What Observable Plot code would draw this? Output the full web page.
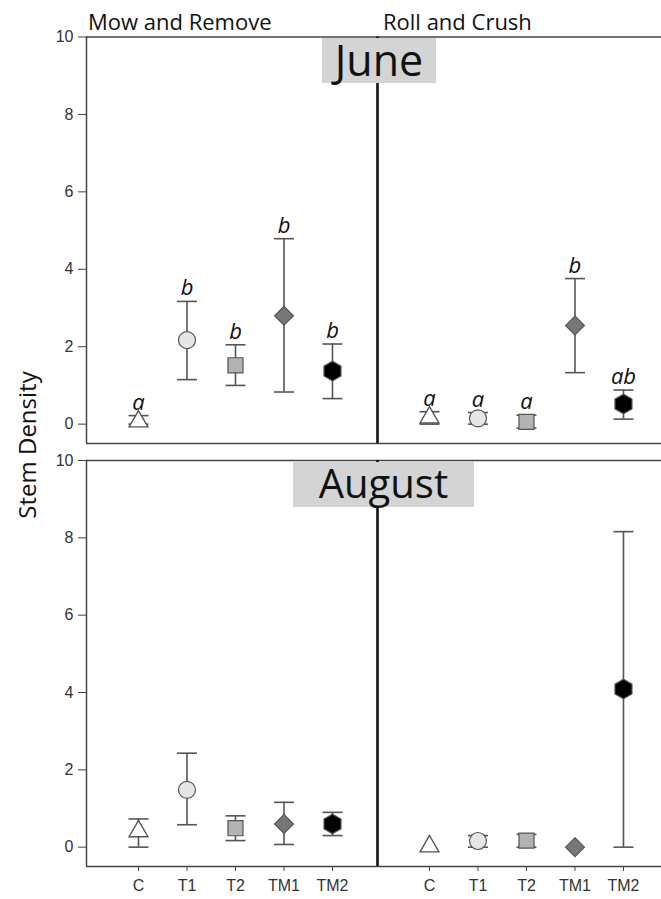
<!DOCTYPE html>
<html><head><meta charset="utf-8">
<script src="https://cdn.jsdelivr.net/npm/d3@7"></script>
<script src="https://cdn.jsdelivr.net/npm/@observablehq/plot@0.6"></script>
<style>
body{margin:0;background:#fff;}
#wrap{position:relative;width:661px;height:899px;overflow:hidden;background:#fff;}
.lbl{position:absolute;font-family:"Open Sans",sans-serif;color:#111;white-space:nowrap;line-height:1;}
.box{position:absolute;background:#d4d4d4;font-family:"Open Sans",sans-serif;color:#111;display:flex;align-items:center;justify-content:center;line-height:1;}
</style></head><body>
<div id="wrap">
  <div id="june" style="position:absolute;left:0;top:0"></div>
  <div id="aug" style="position:absolute;left:0;top:451px"></div>
  <div class="lbl" style="left:88px;top:10px;font-size:22px">Mow and Remove</div>
  <div class="lbl" style="left:383px;top:10px;font-size:22px">Roll and Crush</div>
  <div class="box" style="left:322px;top:38px;width:114px;height:45px;font-size:43px;padding-bottom:3px;box-sizing:border-box">June</div>
  <div class="box" style="left:293px;top:462px;width:181px;height:45px;font-size:40px;padding-bottom:3px;box-sizing:border-box">August</div>
  <div class="lbl" style="left:27px;top:445px;font-size:24px;transform:translate(-50%,-50%) rotate(-90deg)">Stem Density</div>
</div>
<script>
// ---- data ----
const treatments = ["C", "T1", "T2", "TM1", "TM2"];
const groups = ["Mow and Remove", "Roll and Crush"];
const yTicks = [0, 2, 4, 6, 8, 10];

// June
const juneMowMean = [0.07, 2.17, 1.52, 2.80, 1.37];
const juneMowLow  = [0.00, 1.15, 1.00, 0.83, 0.66];
const juneMowHigh = [0.22, 3.17, 2.05, 4.79, 2.07];
const juneMowLetters = ["a", "b", "b", "b", "b"];

const juneRollMean = [0.17, 0.15, 0.06, 2.55, 0.52];
const juneRollLow  = [0.00, 0.00, -0.10, 1.33, 0.13];
const juneRollHigh = [0.32, 0.30, 0.23, 3.76, 0.88];
const juneRollLetters = ["a", "a", "a", "b", "ab"];

// August
const augMowMean = [0.41, 1.48, 0.49, 0.60, 0.60];
const augMowLow  = [0.00, 0.58, 0.17, 0.07, 0.30];
const augMowHigh = [0.73, 2.43, 0.81, 1.16, 0.90];

const augRollMean = [0.02, 0.16, 0.17, 0.00, 4.09];
const augRollLow  = [null, 0.00, 0.00, null, 0.00];
const augRollHigh = [null, 0.30, 0.33, null, 8.16];

// ---- build tables ----
function rows(groupData) {
  const out = [];
  groupData.forEach((g, gi) => {
    treatments.forEach((t, ti) => {
      out.push({
        group: groups[gi], treatment: t, pos: gi * 6 + ti,
        mean: g.mean[ti], lo: g.lo[ti], hi: g.hi[ti],
        letter: g.letters ? g.letters[ti] : null
      });
    });
  });
  return out;
}
const juneRows = rows([
  {mean: juneMowMean, lo: juneMowLow, hi: juneMowHigh, letters: juneMowLetters},
  {mean: juneRollMean, lo: juneRollLow, hi: juneRollHigh, letters: juneRollLetters}
]);
const augRows = rows([
  {mean: augMowMean, lo: augMowLow, hi: augMowHigh},
  {mean: augRollMean, lo: augRollLow, hi: augRollHigh}
]);

const xLeft = -1.072, xDivider = 4.928, xRight = 10.784;
const tickPositions = groups.flatMap((g, gi) => treatments.map((t, ti) => gi * 6 + ti));

const capSymbol = {draw(ctx) { ctx.moveTo(-10, 0); ctx.lineTo(10, 0); }};
const frameColor = "#444";
const barColor = "#555";
const axisFont = "'Liberation Sans', Arial, sans-serif";

function panel({data, height, marginTop, marginBottom, showX}) {
  return Plot.plot({
    width: 661, height, marginLeft: 86, marginRight: 0, marginTop, marginBottom,
    style: {fontFamily: axisFont, fontSize: "16px", color: "#333", background: "white", maxWidth: "none", overflow: "visible"},
    x: {type: "linear", domain: [xLeft, xRight], axis: null},
    y: {domain: [-0.5, 10], axis: null},
    symbol: {domain: treatments, range: ["triangle", "circle", "square", "diamond2", "hexagon"]},
    color: {type: "ordinal", domain: treatments, range: ["#ffffff", "#e6e6e6", "#b3b3b3", "#777777", "#000000"]},
    marks: [
      Plot.axisY(yTicks, {tickSize: 8, tickPadding: 5, stroke: frameColor, fill: "#333", fontSize: 16, fontFamily: axisFont, label: null}),
      ...(showX ? [Plot.axisX(tickPositions, {tickSize: 5, tickPadding: 8, tickFormat: d => treatments[d % 6], stroke: frameColor, fill: "#333", fontSize: 16, fontFamily: axisFont, label: null})] : []),
      Plot.ruleY([10, -0.5], {stroke: frameColor, strokeWidth: 1.5}),
      Plot.ruleX([xLeft], {y1: -0.5, y2: 10, stroke: frameColor, strokeWidth: 1.5}),
      Plot.ruleX([xDivider], {y1: -0.5, y2: 10, stroke: "#111", strokeWidth: 2.6}),
      Plot.ruleX(data, {x: "pos", y1: "lo", y2: "hi", stroke: barColor, strokeWidth: 1.6}),
      Plot.dot(data, {x: "pos", y: "hi", symbol: capSymbol, fill: "none", stroke: barColor, strokeWidth: 1.6}),
      Plot.dot(data, {x: "pos", y: "lo", symbol: capSymbol, fill: "none", stroke: barColor, strokeWidth: 1.6}),
      Plot.dot(data, {filter: d => d.treatment === "C", x: "pos", y: "mean", symbol: "treatment", fill: "treatment", stroke: "#555", strokeWidth: 1.4, r: 7}),
      Plot.dot(data, {filter: d => d.treatment !== "C", x: "pos", y: "mean", symbol: "treatment", fill: "treatment", stroke: "#555", strokeWidth: 1.2, r: 8.5}),
      Plot.text(data, {filter: d => d.letter, x: "pos", y: "hi", text: "letter", dy: -6, lineAnchor: "bottom", fontStyle: "italic", fontSize: 22, fontFamily: "'Open Sans', sans-serif", fill: "#111"})
    ]
  });
}

document.getElementById("june").append(panel({data: juneRows, height: 451, marginTop: 36.5, marginBottom: 8, showX: false}));
document.getElementById("aug").append(panel({data: augRows, height: 448, marginTop: 9, marginBottom: 33, showX: true}));
</script>
</body></html>
